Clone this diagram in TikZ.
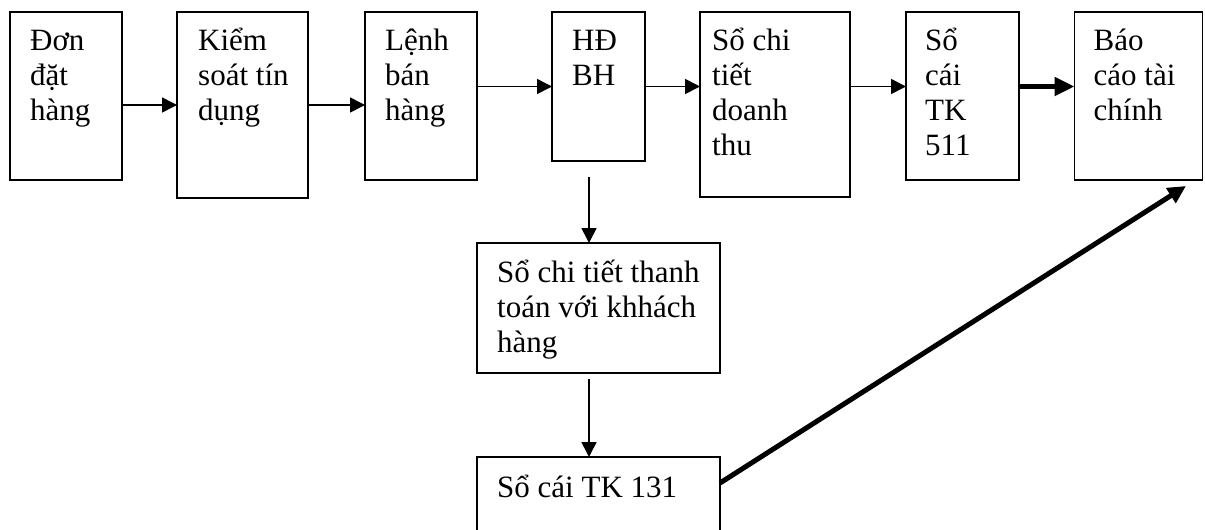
\documentclass[tikz,border=0pt]{standalone}
\usepackage{fontspec}
\setmainfont{Liberation Serif}
\usetikzlibrary{arrows.meta}

\newcommand{\lines}[1]{\parbox[t]{400pt}{\raggedright #1}}

\begin{document}
\begin{tikzpicture}[x=1pt, y=-1pt,
  box/.style={draw, line width=1.6pt, inner sep=0pt, outer sep=0pt},
  txt/.style={anchor=base west, inner sep=0pt, font=\fontsize{31}{35}\selectfont},
  arr/.style={line width=1.6pt, -{Triangle[length=15pt, width=15pt]}},
  bigarr/.style={line width=5pt, -{Triangle[length=20pt, width=18pt]}},
  diagarr/.style={line width=5pt, -{Triangle[length=18pt, width=17pt]}}]
  \useasboundingbox (0,0) rectangle (1205,530);

  % top row of documents and books
  \node[box, minimum width=112pt, minimum height=168pt] (b1) at (66,96) {};
  \node[box, minimum width=131pt, minimum height=186pt] (b2) at (242.5,105) {};
  \node[box, minimum width=112pt, minimum height=168pt] (b3) at (421,96) {};
  \node[box, minimum width=93pt,  minimum height=149pt] (b4) at (598.5,86.5) {};
  \node[box, minimum width=150pt, minimum height=185pt] (b5) at (775,104.5) {};
  \node[box, minimum width=113pt, minimum height=168pt] (b6) at (962.5,96) {};
  \node[box, minimum width=128pt, minimum height=168pt] (b7) at (1138.5,96) {};
  % receivables branch
  \node[box, minimum width=243pt, minimum height=130pt] (b8) at (598.5,308) {};
  \node[box, minimum width=243pt, minimum height=90pt]  (b9) at (598.5,502) {};

  % labels
  \node[txt] (t1) at ([xshift=20pt, yshift=-38pt]b1.north west) {\lines{Đơn\\đặt\\hàng}};
  \node[txt] (t2) at ([xshift=21pt, yshift=-38pt]b2.north west) {\lines{Kiểm\\soát tín\\dụng}};
  \node[txt] (t3) at ([xshift=20pt, yshift=-38pt]b3.north west) {\lines{Lệnh\\bán\\hàng}};
  \node[txt] (t4) at ([xshift=20pt, yshift=-38pt]b4.north west) {\lines{HĐ\\BH}};
  \node[txt] (t5) at ([xshift=12pt, yshift=-38pt]b5.north west) {\lines{Sổ chi\\tiết\\doanh\\thu}};
  \node[txt] (t6) at ([xshift=19pt, yshift=-38pt]b6.north west) {\lines{Sổ\\cái\\TK\\511}};
  \node[txt] (t7) at ([xshift=19pt, yshift=-38pt]b7.north west) {\lines{Báo\\cáo tài\\chính}};
  \node[txt] (t8) at ([xshift=20pt, yshift=-39pt]b8.north west) {\lines{Sổ chi tiết thanh\\toán với khhách\\hàng}};
  \node[txt] (t9) at ([xshift=20pt, yshift=-40pt]b9.north west) {\lines{Sổ cái TK 131}};

  % flow along the top row
  \draw[arr] ([yshift=-9pt]b1.east) -- ([yshift=-9pt]b1.east -| b2.west);
  \draw[arr] ([yshift=-9pt]b2.north east |- b1.east) -- ([yshift=-9pt]b3.west);
  \draw[arr] (b3.east |- b4.west) -- (b4.west);
  \draw[arr] (b4.east) -- (b4.east -| b5.west);
  \draw[arr] (b5.east |- b4.east) -- (b6.west |- b4.east);
  \draw[bigarr] (b6.east |- b4.east) -- (b7.west |- b4.east);

  % branch down to the receivable ledgers
  \coordinate (v1) at (589,177);
  \draw[arr] (v1) -- (v1 |- b8.north);
  \draw[arr] ([yshift=-6pt]b8.south -| v1) -- (v1 |- b9.north);

  % ledger 131 into the financial statements
  \coordinate (d1) at (1186,186);
  \draw[diagarr] ([yshift=19pt]b9.east) -- (d1);
\end{tikzpicture}
\end{document}
